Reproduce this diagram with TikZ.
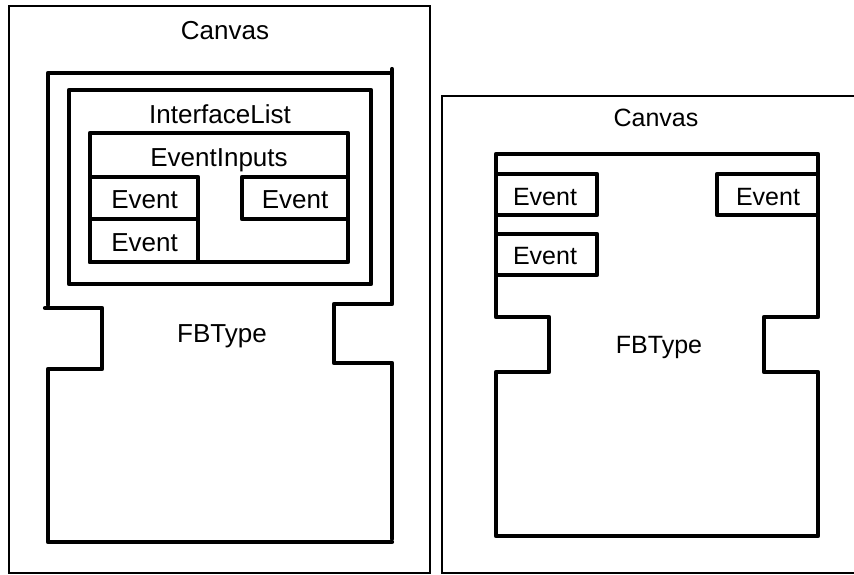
\documentclass[tikz,border=0pt]{standalone}
\usepackage{fontspec}
\setmainfont{Liberation Sans}
\begin{document}
\begin{tikzpicture}[x=1pt,y=-1pt,
  frame/.style={draw=black,line width=1.6pt},
  heavy/.style={draw=black,line width=4.2pt,line join=round,line cap=round},
  lbl/.style={anchor=base,inner sep=0pt,font=\fontsize{26}{30}\selectfont},
  lbls/.style={anchor=base,inner sep=0pt,font=\fontsize{25}{29}\selectfont}]
\useasboundingbox (0,0) rectangle (854,574);

% ---------- left: nested model ----------
\draw[frame] (9,6) rectangle (430,573);
\node[lbl] (canvasL) at (225,39) {Canvas};

% FBType outline with interface notches
\draw[heavy] (392,69) -- (392,304) -- (334,304) -- (334,363) -- (392,363) -- (392,539);
\draw[heavy] (392,542) -- (48,542) -- (48,369) -- (102,369) -- (102,308) -- (45,308);
\draw[heavy] (48,305) -- (48,73) -- (392,73);
\node[lbl] (fbL) at (222,342) {FBType};

% InterfaceList
\draw[heavy] (69,90) rectangle (371,284);
\node[lbl] (ifl) at (220,123) {InterfaceList};

% EventInputs
\draw[heavy] (90,133) rectangle (348,262);
\node[lbl] (evin) at (219,166) {EventInputs};

% Events
\draw[heavy] (90,177) rectangle (198,219);
\draw[heavy] (90,219) rectangle (198,262);
\draw[heavy] (242,177) rectangle (348,219);
\node[lbl] (evL1) at (144.5,208) {Event};
\node[lbl] (evL2) at (144.5,251) {Event};
\node[lbl] (evL3) at (295,208) {Event};

% ---------- right: rendered block ----------
\draw[draw=black,line width=2.2pt] (858,96) -- (442,96) -- (442,573) -- (858,573);
\node[lbls] (canvasR) at (656,126) {Canvas};

\draw[heavy] (496,154) -- (818,154) -- (818,317) -- (764,317) -- (764,372)
  -- (818,372) -- (818,536) -- (496,536) -- (496,372) -- (549,372)
  -- (549,317) -- (496,317) -- cycle;
\node[lbls] (fbR) at (659,353) {FBType};

\draw[heavy] (496,174) rectangle (597,215);
\draw[heavy] (496,234) rectangle (597,275);
\draw[heavy] (717,174) rectangle (818,215);
\node[lbls] (evR1) at (545,205) {Event};
\node[lbls] (evR2) at (545,264) {Event};
\node[lbls] (evR3) at (768,205) {Event};
\end{tikzpicture}
\end{document}
